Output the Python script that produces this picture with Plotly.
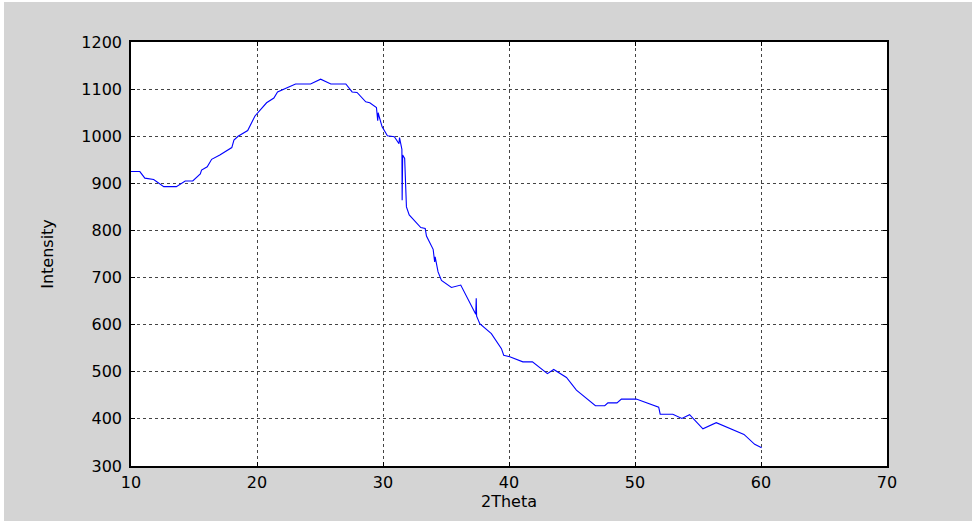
import plotly.graph_objects as go

two_theta = [10.0, 10.7, 11.1, 11.8, 12.6, 13.6, 14.3, 14.9, 15.5, 15.6, 16.05, 16.4,
             17.05, 18.0, 18.17, 18.5, 19.26, 19.84, 20.76, 21.34, 21.63, 22.35, 23.06,
             24.25, 25.05, 25.86, 27.05, 27.55, 27.94, 28.63, 28.95, 29.48, 29.58, 29.62,
             29.66, 29.93, 30.35, 30.9, 31.27, 31.31, 31.35, 31.47, 31.5, 31.52, 31.56,
             31.72, 31.86, 32.08, 32.6, 33.0, 33.35, 33.45, 33.98, 34.08, 34.1, 34.14,
             34.37, 34.64, 35.43, 36.17, 37.36, 37.4, 37.43, 37.68, 38.6, 39.4, 39.58,
             40.06, 41.1, 41.86, 43.05, 43.55, 44.56, 45.35, 46.14, 46.86, 47.6, 47.85,
             48.57, 48.92, 50.1, 51.88, 52.0, 53.0, 53.72, 54.33, 55.39, 56.45, 58.65,
             59.5, 60.05]
intensity = [925, 925, 911, 908, 893, 893, 905, 905, 920, 928, 935, 951,
             960, 976, 992, 1000, 1012, 1043, 1071, 1081, 1094, 1102, 1111,
             1111, 1121, 1111, 1111, 1094, 1093, 1073, 1071, 1061, 1033, 1050,
             1045, 1020, 1001, 999, 984, 997, 990, 976, 972, 864, 960,
             953, 850, 833, 819, 806, 804, 788, 760, 740, 733, 744,
             712, 694, 679, 684, 622, 656, 618, 602, 581, 549, 535,
             532, 521, 521, 496, 505, 488, 461, 443, 428, 428, 434,
             434, 442, 442, 425, 410, 410, 401, 409, 379, 392, 367,
             346, 339]

x_ticks = [10, 20, 30, 40, 50, 60, 70]
y_ticks = [300, 400, 500, 600, 700, 800, 900, 1000, 1100, 1200]

FONT = "DejaVu Sans, Arial, sans-serif"
W, H = 968, 519
L, R, T, B = 127, 883.5, 40, 463.7

fig = go.Figure()
fig.add_trace(go.Scatter(
    x=two_theta, y=intensity, mode="lines",
    line=dict(color="#0000ff", width=1.1),
    hoverinfo="x+y", showlegend=False,
))

axis_common = dict(
    showline=True, linecolor="black", linewidth=1.5, mirror="ticks",
    ticks="inside", ticklen=4, tickcolor="black", tickwidth=1,
    showgrid=True, gridcolor="#444444", griddash="dot", gridwidth=1,
    zeroline=False, tickfont=dict(family=FONT, size=16, color="black"),
)

fig.update_layout(
    width=W, height=H,
    margin=dict(l=L, r=W - R, t=T, b=H - B, autoexpand=False),
    paper_bgcolor="#d4d4d4", plot_bgcolor="white",
    font=dict(family=FONT, size=16, color="black"),
    xaxis=dict(range=[10, 70], tickvals=x_ticks, ticktext=[str(v) for v in x_ticks],
               title=dict(text="2Theta", font=dict(family=FONT, size=16), standoff=2),
               ticklabelstandoff=1, **axis_common),
    yaxis=dict(range=[300, 1200], tickvals=y_ticks, ticktext=[str(v) for v in y_ticks],
               title=dict(text="Intensity", font=dict(family=FONT, size=16), standoff=24),
               ticklabelstandoff=4, **axis_common),
)

fig.write_html("out.html", post_script="document.body.style.margin='2px 0 0 4px';")
